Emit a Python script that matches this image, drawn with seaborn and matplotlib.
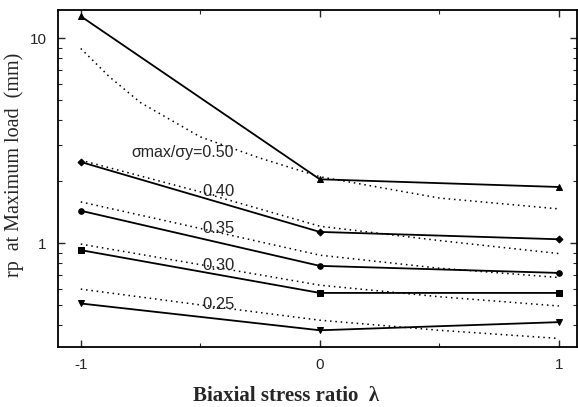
import matplotlib
matplotlib.use("Agg")
import matplotlib.pyplot as plt
import seaborn as sns
import pandas as pd
from matplotlib.ticker import LogLocator, NullFormatter, FixedLocator, FixedFormatter

sns.set_style("ticks")
plt.rcParams['font.family'] = ['Liberation Serif', 'DejaVu Serif']

# Data
lam = [-1, 0, 1]
lam_fine = [-1, -0.5, 0, 0.5, 1]
lam_top = [-1, -0.88, -0.75, -0.5, -0.25, 0, 0.5, 1]
ratios = ["0.50", "0.40", "0.35", "0.30", "0.25"]
solid_050 = [12.8, 2.05, 1.88]
solid_040 = [2.49, 1.135, 1.045]
solid_035 = [1.44, 0.775, 0.716]
solid_030 = [0.925, 0.572, 0.572]
solid_025 = [0.508, 0.376, 0.412]
dot_050 = [8.91, 6.48, 4.85, 3.30, 2.60, 2.11, 1.66, 1.47]
dot_040 = [2.54, 1.78, 1.21, 1.03, 0.89]
dot_035 = [1.59, 1.18, 0.874, 0.755, 0.68]
dot_030 = [0.99, 0.786, 0.624, 0.548, 0.494]
dot_025 = [0.597, 0.50, 0.421, 0.376, 0.343]

solids = [solid_050, solid_040, solid_035, solid_030, solid_025]
dots = [dot_050, dot_040, dot_035, dot_030, dot_025]
dot_x = [lam_top, lam_fine, lam_fine, lam_fine, lam_fine]
markers = ["^", "D", "o", "s", "v"]
msizes = [5, 3.5, 4, 4, 5]

fig = plt.figure(figsize=(5.78, 4.07), dpi=100)
ax = fig.add_axes([0.100, 0.147, 0.898, 0.828])

for r, s, dx, d, m, ms in zip(ratios, solids, dot_x, dots, markers, msizes):
    df_s = pd.DataFrame({"lam": lam, "rp": s})
    df_d = pd.DataFrame({"lam": dx, "rp": d})
    sns.lineplot(data=df_s, x="lam", y="rp", ax=ax, color="black", lw=1.3,
                 marker=m, markersize=ms, markeredgecolor="black")
    sns.lineplot(data=df_d, x="lam", y="rp", ax=ax, color="black", lw=1.1,
                 linestyle=(0, (1, 2.5)))

ax.set_yscale("log")
ax.set_xlim(-1.096, 1.075)
ax.set_ylim(0.311, 13.7)

ax.xaxis.set_major_locator(FixedLocator([-1, 0, 1]))
ax.xaxis.set_major_formatter(FixedFormatter(["-1", "0", "1"]))
ax.xaxis.set_minor_locator(FixedLocator([-0.5, 0.5]))
ax.yaxis.set_major_locator(FixedLocator([1, 10]))
ax.yaxis.set_major_formatter(FixedFormatter(["1", "10"]))
ax.yaxis.set_minor_locator(LogLocator(base=10, subs=range(2, 10)))
ax.yaxis.set_minor_formatter(NullFormatter())
ax.tick_params(which="both", direction="in", top=True, right=True, labelsize=11)
ax.tick_params(which="major", length=5, width=1, pad=8)
ax.tick_params(which="minor", length=3, width=0.8)
for lbl in ax.get_xticklabels() + ax.get_yticklabels():
    lbl.set_family(["Liberation Sans", "DejaVu Sans"])
for sp in ax.spines.values():
    sp.set_linewidth(1.3)
    sp.set_color("black")

ax.set_xlabel("Biaxial stress ratio  λ", fontsize=15, fontweight="bold")
ax.xaxis.set_label_coords(0.44, -0.115)
ax.set_ylabel("rp  at Maximum load  (mm)", fontsize=14.5)
ax.yaxis.set_label_coords(-0.066, 0.54)

# curve labels
sans = ["Liberation Sans", "DejaVu Sans"]
ax.text(-0.79, 2.78, "σmax/σy=0.50", fontsize=11.5, va="center", family=sans)
ax.text(-0.49, 1.78, "0.40", fontsize=12, va="center", family=sans)
ax.text(-0.49, 1.18, "0.35", fontsize=12, va="center", family=sans)
ax.text(-0.49, 0.775, "0.30", fontsize=12, va="center", family=sans)
ax.text(-0.49, 0.50, "0.25", fontsize=12, va="center", family=sans)

fig.savefig("out.png", dpi=100)
